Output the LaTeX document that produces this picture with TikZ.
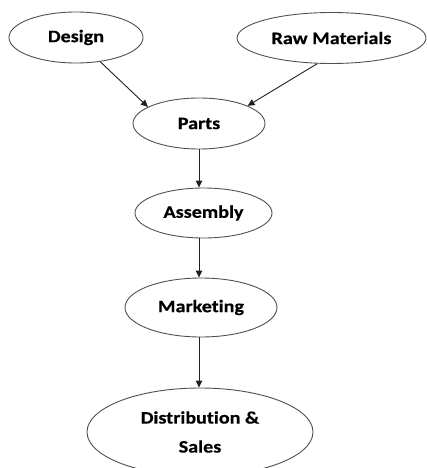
\documentclass[tikz,border=0pt]{standalone}
\usepackage{fontspec}
\setmainfont{Carlito}
\newfontfamily\stagefont{Carlito}[FakeStretch=1.15, Ligatures=NoCommon, BoldFeatures={FakeBold=0.5}]
\usetikzlibrary{shapes.geometric,arrows.meta}
\definecolor{edgegray}{HTML}{505050}
\definecolor{linegray}{HTML}{202020}
\tikzset{
  stage/.style={ellipse, draw=edgegray, line width=0.9pt, inner sep=0pt,
    font=\stagefont\fontsize{17.5}{29}\selectfont\bfseries, align=center, text=black},
  flow/.style={draw=linegray, line width=0.9pt,
    -{Triangle[length=7pt,width=6.5pt]}}
}
\begin{document}
\begin{tikzpicture}[x=1pt,y=-1pt]
  \useasboundingbox (0,0) rectangle (427,468);
  % process stages
  \node[stage, minimum width=134pt, minimum height=51pt] (design) at (76,37.5) {Design};
  \node[stage, minimum width=189pt, minimum height=51pt] (raw) at (331.5,38) {Raw Materials};
  \node[stage, minimum width=132pt, minimum height=51pt] (parts) at (199,123.5) {Parts};
  \node[stage, minimum width=137pt, minimum height=50pt] (assembly) at (203.5,213) {Assembly};
  \node[stage, minimum width=152pt, minimum height=59pt] (marketing) at (201,307.5) {Marketing};
  \node[stage, minimum width=226pt, minimum height=88pt] (distribution) at (200,432) {Distribution \&\\Sales};
  % connectors
  \draw[flow] (design.-45) -- (parts.162);
  \draw[flow] (raw.241) -- (parts.20);
  \draw[flow] (parts.south) -- (parts.south |- assembly.north);
  \draw[flow] (parts.south |- assembly.south) -- (parts.south |- marketing.north);
  \draw[flow] (parts.south |- marketing.south) -- (parts.south |- distribution.north);
\end{tikzpicture}
\end{document}
